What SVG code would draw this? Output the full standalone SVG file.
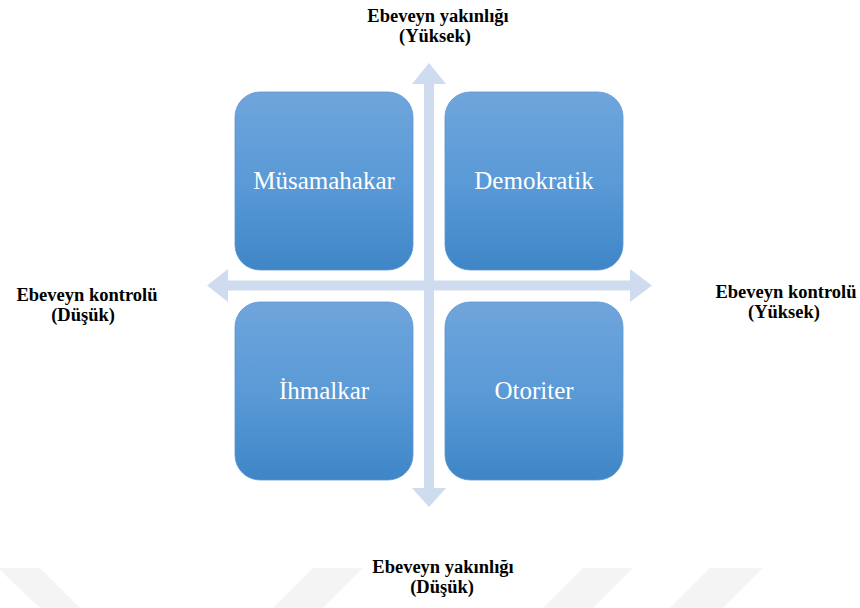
<svg xmlns="http://www.w3.org/2000/svg" width="860" height="608" viewBox="0 0 860 608">
<defs>
<linearGradient id="boxGrad" x1="0" y1="0" x2="0" y2="1">
<stop offset="0" stop-color="#6fa5db"/>
<stop offset="0.5" stop-color="#5a9ad7"/>
<stop offset="1" stop-color="#3f86c7"/>
</linearGradient>
<style>
.box{fill:url(#boxGrad);stroke:#5c95cf;stroke-width:0.8;}
.boxText{fill:#ffffff;font-size:25px;text-anchor:middle;}
.axisLabel{fill:#000000;font-size:18.5px;font-weight:bold;text-anchor:middle;}
.axis{fill:#cfdbef;}
.wm{fill:#f4f4f4;}
</style>
</defs>
<rect x="0" y="0" width="860" height="608" fill="#ffffff"/>
<g id="watermark">
<polygon class="wm" points="0,568 40,568 80,608 40,608 0,570"/>
<polygon class="wm" points="313,568 363,568 323,608 273,608"/>
<polygon class="wm" points="583,568 633,568 593,608 543,608"/>
<polygon class="wm" points="710,568 763,568 723,608 670,608"/>
</g>
<g id="connectors">
<polygon class="axis" points="207,285.5 228,269 228,280.5 630,280.5 630,269 652,285.5 630,302 630,290.5 228,290.5 228,302"/>
<polygon class="axis" points="429,63 446,84 434,84 434,488 446,488 429,507 412,488 424,488 424,84 412,84"/>
</g>
<g font-family="Liberation Serif, DejaVu Serif, serif">
<g id="node-musamahakar">
<rect class="box" x="235" y="92" width="178" height="178" rx="25" ry="25"/>
<text class="boxText" x="324" y="189">Müsamahakar</text>
</g>
<g id="node-demokratik">
<rect class="box" x="445" y="92" width="178" height="178" rx="25" ry="25"/>
<text class="boxText" x="534" y="189">Demokratik</text>
</g>
<g id="node-ihmalkar">
<rect class="box" x="235" y="302" width="178" height="178" rx="25" ry="25"/>
<text class="boxText" x="324" y="399">İhmalkar</text>
</g>
<g id="node-otoriter">
<rect class="box" x="445" y="302" width="178" height="178" rx="25" ry="25"/>
<text class="boxText" x="534" y="399">Otoriter</text>
</g>
<g id="label-top">
<text class="axisLabel" x="438" y="22">Ebeveyn yakınlığı</text>
<text class="axisLabel" x="435" y="42">(Yüksek)</text>
</g>
<g id="label-bottom">
<text class="axisLabel" x="443" y="573">Ebeveyn yakınlığı</text>
<text class="axisLabel" x="442" y="593">(Düşük)</text>
</g>
<g id="label-left">
<text class="axisLabel" x="87" y="301">Ebeveyn kontrolü</text>
<text class="axisLabel" x="83" y="321">(Düşük)</text>
</g>
<g id="label-right">
<text class="axisLabel" x="786" y="298">Ebeveyn kontrolü</text>
<text class="axisLabel" x="784" y="318">(Yüksek)</text>
</g>
</g>
</svg>
